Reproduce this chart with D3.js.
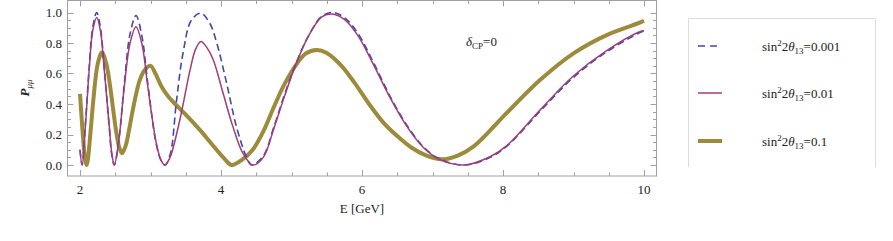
<!DOCTYPE html>
<html><head><meta charset="utf-8">
<script src="https://cdn.jsdelivr.net/npm/d3@7"></script>
<style>
html,body{margin:0;padding:0;background:#fff;}
svg{display:block;font-family:"Liberation Serif","DejaVu Serif",serif;}
</style></head>
<body>
<svg id="chart" width="893" height="241"></svg>
<script>
// ---- data ----
const xTicks = [2, 4, 6, 8, 10];
const yTicks = [0.0, 0.2, 0.4, 0.6, 0.8, 1.0];
const seriesNames = ["0.001", "0.01", "0.1"];

const E_001 = [2.00,2.03,2.08,2.13,2.18,2.237,2.29,2.345,2.416,2.45,2.487,2.55,2.63,2.71,2.794,2.88,2.96,3.08,3.15,3.206,3.28,3.37,3.46,3.58,3.716,3.84,3.94,4.08,4.22,4.36,4.435,4.6,4.75,4.9,5.05,5.234,5.43,5.6,5.78,5.96,6.17,6.41,6.645,6.88,7.12,7.47,7.82,8.06,8.53,9.0,9.48,9.95,10.0];
const P_001 = [0.10,0.0,0.29,0.64,0.90,1.0,0.90,0.63,0.24,0.07,0.0,0.16,0.54,0.86,0.98,0.84,0.54,0.14,0.03,0.0,0.07,0.426,0.73,0.95,0.995,0.93,0.80,0.536,0.25,0.054,0.0,0.06,0.25,0.46,0.65,0.84,0.975,1.0,0.955,0.85,0.665,0.44,0.255,0.115,0.035,0.0,0.05,0.125,0.355,0.575,0.745,0.87,0.878];

const E_01 = [2.00,2.03,2.08,2.13,2.18,2.237,2.29,2.345,2.416,2.45,2.487,2.55,2.63,2.71,2.794,2.88,2.96,3.08,3.15,3.206,3.277,3.418,3.56,3.64,3.716,3.80,3.89,4.03,4.17,4.31,4.45,4.6,4.75,4.9,5.05,5.234,5.43,5.57,5.75,5.94,6.156,6.40,6.634,6.87,7.106,7.45,7.816,8.05,8.525,8.99,9.47,9.94,10.0];
const P_01 = [0.10,0.0,0.28,0.62,0.88,0.968,0.88,0.62,0.25,0.08,0.0,0.16,0.52,0.80,0.907,0.79,0.52,0.15,0.03,0.0,0.05,0.30,0.62,0.76,0.81,0.77,0.69,0.47,0.25,0.078,0.0,0.05,0.24,0.45,0.645,0.84,0.972,0.99,0.955,0.85,0.665,0.44,0.255,0.115,0.035,0.0,0.054,0.125,0.36,0.58,0.75,0.874,0.88];

const E_1 = [2.00,2.02,2.05,2.075,2.095,2.15,2.19,2.25,2.31,2.37,2.426,2.48,2.52,2.56,2.596,2.65,2.70,2.757,2.85,2.93,3.0,3.07,3.15,3.25,3.35,3.5,3.7,3.9,4.05,4.15,4.3,4.45,4.6,4.75,4.9,5.07,5.2,5.357,5.5,5.7,5.9,6.1,6.3,6.5,6.7,6.9,7.13,7.35,7.58,8.05,8.525,9.0,9.47,9.94,10.0];
const P_1 = [0.466,0.33,0.14,0.03,0.0,0.22,0.43,0.66,0.737,0.67,0.52,0.33,0.20,0.11,0.077,0.13,0.24,0.38,0.56,0.63,0.65,0.60,0.52,0.45,0.40,0.33,0.23,0.12,0.04,0.0,0.035,0.10,0.22,0.38,0.53,0.66,0.73,0.754,0.735,0.655,0.535,0.40,0.28,0.19,0.115,0.065,0.037,0.06,0.12,0.34,0.557,0.732,0.852,0.933,0.946];

const colors = ["#4545ad", "#a03d78", "#9b8b3b"];

// ---- drawing ----
const svg = d3.select("#chart");
const L = 67, R = 656, T = 0.5, B = 176;
const x = d3.scaleLinear().domain([2, 10]).range([80, 644]);
const y = d3.scaleLinear().domain([0, 1]).range([165, 12.5]);
const frameCol = "#a0a0a0";

// frame
svg.append("rect").attr("x", L + 0.5).attr("y", T).attr("width", R - L).attr("height", B - T)
  .attr("fill", "none").attr("stroke", frameCol).attr("stroke-width", 1);

// minor/major ticks
const xMinor = d3.range(2, 10.01, 0.5);
const yMinor = d3.range(0, 1.001, 0.05);
const tg = svg.append("g").attr("stroke", frameCol).attr("stroke-width", 1);
xMinor.forEach(v => {
  const major = Math.abs(v - Math.round(v / 2) * 2) < 1e-6;
  const len = major ? 6 : 3.5;
  const px = Math.round(x(v)) + 0.5;
  tg.append("line").attr("x1", px).attr("x2", px).attr("y1", B).attr("y2", B - len);
  tg.append("line").attr("x1", px).attr("x2", px).attr("y1", T).attr("y2", T + len);
});
yMinor.forEach(v => {
  const major = Math.abs(v * 5 - Math.round(v * 5)) < 1e-6;
  const len = major ? 6 : 3.5;
  const py = Math.round(y(v)) + 0.5;
  tg.append("line").attr("x1", L + 0.5).attr("x2", L + 0.5 + len).attr("y1", py).attr("y2", py);
  tg.append("line").attr("x1", R + 0.5).attr("x2", R + 0.5 - len).attr("y1", py).attr("y2", py);
});

// tick labels
svg.append("g").selectAll("text").data(xTicks).join("text")
  .attr("x", d => x(d)).attr("y", 194).attr("text-anchor", "middle")
  .attr("font-size", 13).attr("fill", "#222").text(d => d);
svg.append("g").selectAll("text").data(yTicks).join("text")
  .attr("x", 62).attr("y", d => y(d) + 4.5).attr("text-anchor", "end")
  .attr("font-size", 13).attr("fill", "#222").text(d => d.toFixed(1));

// axis labels
svg.append("text").attr("x", 362).attr("y", 213).attr("text-anchor", "middle")
  .attr("font-size", 13).attr("fill", "#222").text("E [GeV]");
const yl = svg.append("text").attr("transform", "translate(29,88) rotate(-90)")
  .attr("text-anchor", "middle").attr("font-size", 13).attr("fill", "#222");
yl.append("tspan").attr("font-style", "italic").attr("font-weight", "bold").text("P");
yl.append("tspan").attr("font-style", "italic").attr("font-size", 9).attr("dy", 3).text("μμ");

// curves
const line = d3.line().x(d => x(d[0])).y(d => y(d[1])).curve(d3.curveCatmullRom.alpha(0.5));
const plot = svg.append("g");
plot.append("path").datum(d3.zip(E_1, P_1)).attr("d", line)
  .attr("fill", "none").attr("stroke", colors[2]).attr("stroke-width", 4).attr("stroke-linejoin", "round");
plot.append("path").datum(d3.zip(E_001, P_001)).attr("d", line)
  .attr("fill", "none").attr("stroke", colors[0]).attr("stroke-width", 1.6).attr("stroke-dasharray", "7,4");
plot.append("path").datum(d3.zip(E_01, P_01)).attr("d", line)
  .attr("fill", "none").attr("stroke", colors[1]).attr("stroke-width", 1.5);

// delta_CP label
const dl = svg.append("text").attr("x", 466).attr("y", 46).attr("font-size", 13).attr("fill", "#222");
dl.append("tspan").attr("font-style", "italic").text("δ");
dl.append("tspan").attr("font-size", 9).attr("dy", 3).text("CP");
dl.append("tspan").attr("dy", -3).text("=0");

// legend
svg.append("path").attr("d", "M688.5,167 V18.5 H875.5 V167")
  .attr("fill", "none").attr("stroke", "#dcdcdc").attr("stroke-width", 1);
const legY = [46, 93, 141];
const legW = [1.6, 1.5, 4];
const legDash = ["7,5", null, null];
seriesNames.forEach((name, i) => {
  svg.append("line").attr("x1", 698).attr("x2", 722).attr("y1", legY[i]).attr("y2", legY[i])
    .attr("stroke", colors[i]).attr("stroke-width", legW[i]).attr("stroke-dasharray", legDash[i]);
  const t = svg.append("text").attr("x", 762).attr("y", legY[i] + 4.5).attr("font-size", 13).attr("fill", "#222");
  t.append("tspan").text("sin");
  t.append("tspan").attr("font-size", 9).attr("dy", -5).text("2");
  t.append("tspan").attr("dy", 5).text("2");
  t.append("tspan").attr("font-style", "italic").text("θ");
  t.append("tspan").attr("font-size", 9).attr("dy", 3).text("13");
  t.append("tspan").attr("dy", -3).text("=" + name);
});
</script>
</body></html>
